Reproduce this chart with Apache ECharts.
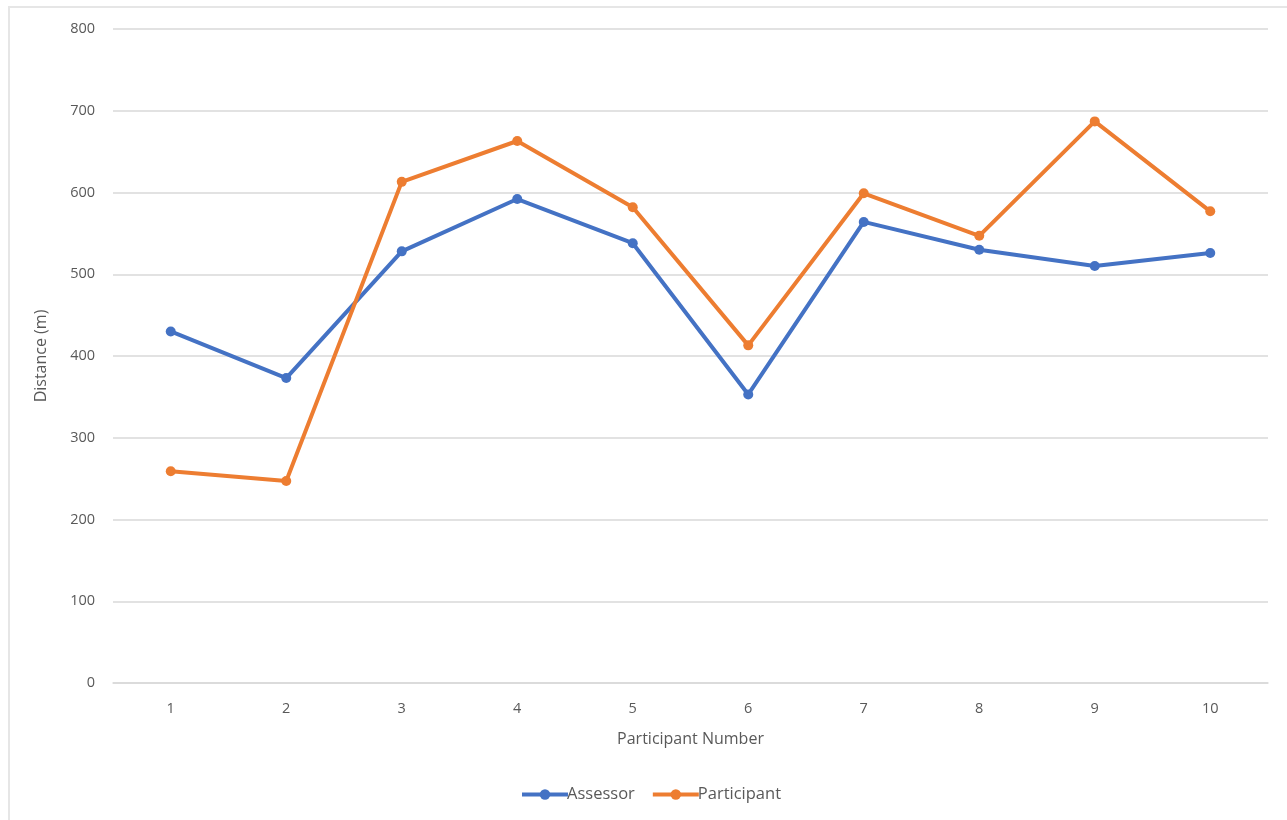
<!DOCTYPE html>
<html>
<head>
<meta charset="utf-8">
<script src="https://cdn.jsdelivr.net/npm/echarts@6/dist/echarts.min.js"></script>
<style>
  html, body { margin: 0; padding: 0; background: #fff; }
  #frame { position: absolute; left: 8px; top: 6px; width: 1290px; height: 830px; border: 2px solid #e6e6e6; box-sizing: border-box; }
  #chart { position: absolute; left: 0; top: 0; width: 1287px; height: 820px; }
</style>
</head>
<body>
<div id="frame"></div>
<div id="chart"></div>
<script>
// participant numbers on the x axis
const participants = ['1', '2', '3', '4', '5', '6', '7', '8', '9', '10']
// distance (m) estimated by each
const assessor = [430, 373, 528, 592, 538, 353, 564, 530, 510, 526]
const participant = [259, 247, 613, 663, 582, 413, 599, 547, 687, 577]

const chart = echarts.init(document.getElementById('chart'))
const font = 'Open Sans, Liberation Sans, sans-serif'
const axisText = { color: '#595959', fontSize: 14.5, fontFamily: font }

chart.setOption({
  animation: false,
  grid: { left: 113, right: 19, top: 29, bottom: 137 },
  legend: {
    bottom: 12,
    left: 515,
    itemWidth: 46,
    itemHeight: 13,
    itemGap: 16,
    lineStyle: { width: 4 },
    textStyle: { color: '#595959', fontSize: 16.5, fontFamily: font, padding: [0, 0, 0, -6] },
    data: ['Assessor', 'Participant']
  },
  xAxis: {
    type: 'category',
    data: participants,
    boundaryGap: true,
    name: 'Participant Number',
    nameLocation: 'middle',
    nameGap: 48,
    nameTextStyle: { color: '#595959', fontSize: 16, fontFamily: font },
    axisLine: { show: true, lineStyle: { color: '#d9d9d9', width: 1.5 } },
    axisTick: { show: false },
    axisLabel: { ...axisText, margin: 18 }
  },
  yAxis: {
    type: 'value',
    min: 0,
    max: 800,
    interval: 100,
    name: 'Distance (m)',
    nameLocation: 'middle',
    nameGap: 64,
    nameTextStyle: { color: '#595959', fontSize: 16, fontFamily: font },
    axisLine: { show: false },
    axisTick: { show: false },
    axisLabel: { ...axisText, margin: 18 },
    splitLine: { lineStyle: { color: '#d9d9d9', width: 1.5 } }
  },
  series: [
    {
      name: 'Assessor',
      type: 'line',
      data: assessor,
      symbol: 'circle',
      symbolSize: 10,
      lineStyle: { color: '#4472c4', width: 4 },
      itemStyle: { color: '#4472c4' }
    },
    {
      name: 'Participant',
      type: 'line',
      data: participant,
      symbol: 'circle',
      symbolSize: 10,
      lineStyle: { color: '#ed7d31', width: 4 },
      itemStyle: { color: '#ed7d31' }
    }
  ]
})
</script>
</body>
</html>
